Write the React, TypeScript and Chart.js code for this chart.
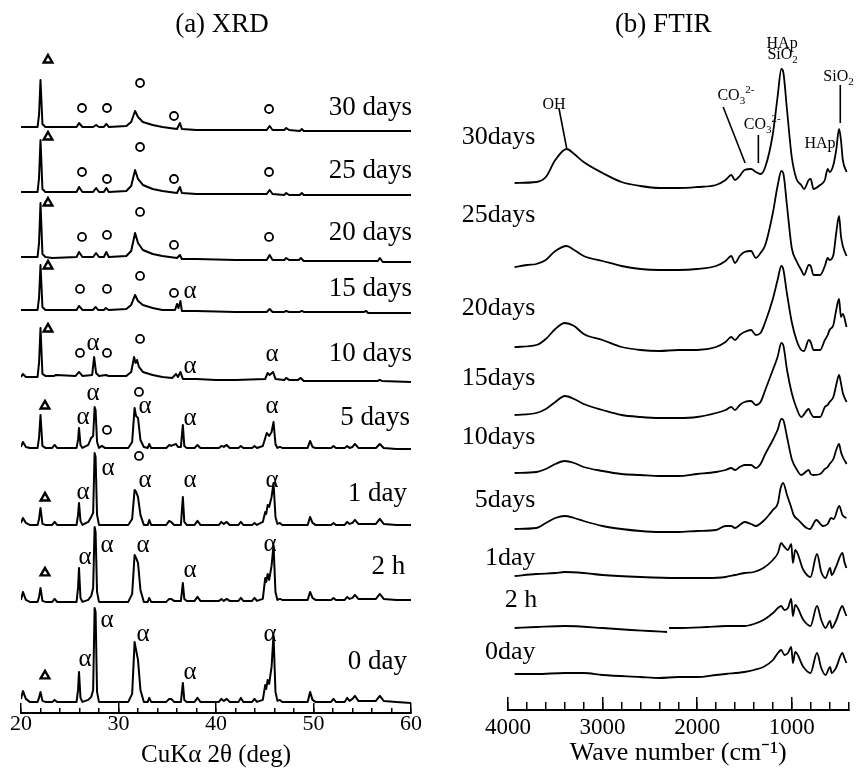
import React, { useEffect, useRef } from "react";
import { Chart, registerables } from "chart.js";

Chart.register(...registerables);

type Pt = [number, number | null];

const FONT = '"Liberation Serif", "Times New Roman", Times, serif';

// ================= (a) XRD =================
const xrdNames = ["30 days", "25 days", "20 days", "15 days", "10 days", "5 days", "1 day", "2 h", "0 day"];
const xrdOffsets = [586, 521, 456, 403, 336, 265, 188, 111, 11];
const xrdNameX = [60.1, 60.1, 60.1, 60.1, 60.1, 59.9, 59.6, 59.4, 59.6];
const xrdNameY = [605, 542, 480, 424, 359, 295, 219, 146, 51];
const xrdMajorTicks = [20, 30, 40, 50, 60];
const xrdMinorTicks = [20, 22, 24, 26, 28, 30, 32, 34, 36, 38, 40, 42, 44, 46, 48, 50, 52, 54, 56, 58, 60];

const xrd30d: Pt[] = [[20, 0], [21.7, 0], [21.85, 12], [22.0, 47], [22.2, 3], [22.5, 0], [25.7, 0], [25.95, 4], [26.3, 0], [27.4, 0], [27.7, 2], [28.0, 0], [28.5, 0], [28.75, 3], [29.0, 0], [30.8, 1], [31.3, 5], [31.7, 16], [32.0, 10], [32.5, 5], [33.5, 2], [34.5, 0], [36.0, -2], [36.3, 4], [36.5, -2], [38, -3], [42, -3], [45.2, -3], [45.5, 1], [45.8, -3], [47.0, -3], [47.2, -1], [47.5, -3], [48.6, -4], [48.8, -2], [49.0, -4], [60, -4]];
const xrd25d: Pt[] = [[20, 0], [21.7, 0], [21.85, 14], [22.0, 52], [22.2, 3], [22.5, 0], [25.7, 0], [25.95, 5], [26.3, 0], [27.4, 0], [27.7, 4], [28.0, 0], [28.5, 0], [28.75, 4], [29.0, 0], [30.8, 1], [31.3, 6], [31.7, 22], [32.0, 13], [32.5, 7], [33.5, 3], [34.5, 1], [36.0, -1], [36.3, 5], [36.5, -1], [38, -2], [42, -2], [45.2, -2], [45.5, 2], [45.8, -2], [47.0, -3], [47.2, -1], [47.5, -3], [48.6, -3], [48.8, -1], [49.0, -3], [60, -3]];
const xrd20d: Pt[] = [[20, 0], [21.7, 0], [21.85, 14], [22.0, 54], [22.2, 3], [22.5, 0], [23.2, -1], [25.7, 0], [25.95, 5], [26.3, 0], [27.4, 0], [27.7, 4], [28.0, 0], [28.5, 0], [28.75, 5], [29.0, 0], [30.8, 1], [31.3, 6], [31.7, 24], [32.0, 14], [32.5, 7], [33.5, 3], [34.5, 1], [36.0, -1], [36.3, 2], [36.5, -2], [38, -2], [42, -3], [45.2, -3], [45.5, 2], [45.8, -3], [47.0, -3], [47.2, -1], [47.5, -3], [48.5, -3], [48.7, -1], [49.0, -4], [56.6, -4], [56.8, -1], [57.1, -5], [60, -5]];
const xrd15d: Pt[] = [[20, 0], [21.7, 0], [21.85, 12], [22.0, 45], [22.2, 3], [22.5, 0], [25.7, 0], [25.95, 4], [26.3, 0], [27.4, 0], [27.65, 3], [27.9, 0], [28.5, 0], [28.7, 2], [29.0, 0], [30.8, 1], [31.3, 5], [31.7, 15], [32.0, 9], [32.5, 5], [33.5, 2], [34.5, 0], [35.8, 0], [36.0, 6], [36.15, 2], [36.35, 9], [36.5, -1], [38, -1], [42, -2], [45.2, -2], [45.5, 1], [45.8, -2], [47.0, -2], [47.2, -1], [47.5, -2], [48.6, -2], [48.8, -1], [49.0, -2], [55.2, -2], [55.4, -1], [55.6, -3], [60, -3]];
const xrd10d: Pt[] = [[20, 0], [20.2, 3], [20.5, 0], [21.7, 0], [21.85, 14], [22.0, 49], [22.2, 3], [22.5, 1], [23.4, 1], [23.6, 2], [25.6, 1], [25.95, 5], [26.3, 1], [27.3, 2], [27.5, 20], [27.7, 4], [28.0, 1], [28.7, 2], [29.0, 1], [30.8, 1], [31.3, 5], [31.6, 20], [31.75, 14], [31.9, 17], [32.1, 10], [32.5, 5], [33.5, 2], [34.5, 0], [35.5, -1], [35.9, 3], [36.1, 0], [36.35, 5], [36.6, -2], [38, -2], [40, -3], [42, -3], [45.05, -2], [45.3, 4], [45.5, 2], [45.85, 5], [46.1, -2], [47.0, -3], [47.2, -1], [47.5, -3], [48.4, -3], [48.7, -1], [49.0, -4], [52, -4], [56.6, -4], [56.8, -3], [57.0, -4], [60, -5]];
const xrd5d: Pt[] = [[20.0, 1], [20.2, 6], [20.5, 1], [20.9, 0], [21.7, 0], [21.85, 10], [22.0, 33], [22.2, 2], [22.5, 0], [23.2, 0], [23.45, 3], [23.7, 0], [25.7, 0], [25.85, 8], [25.95, 20], [26.1, 3], [26.3, 0], [26.9, 3], [27.2, 10], [27.4, 12], [27.55, 41], [27.65, 38], [27.8, 6], [28.0, 0], [28.3, 2], [28.6, 0], [31.0, 0], [31.4, 6], [31.65, 40], [31.8, 32], [32.0, 30], [32.25, 8], [32.6, 1], [33.0, 0], [33.15, 4], [33.35, 0], [34.9, 0], [35.2, 3], [35.4, 2], [35.9, 4], [36.1, 1], [36.4, 1], [36.6, 23], [36.75, 2], [37.0, 0], [37.8, 0], [38.1, 3], [38.4, 0], [40.3, 0], [40.55, 2], [40.8, 1], [41.1, 3], [41.4, 0], [42.3, 0], [42.55, 2], [42.8, 0], [43.7, 0], [43.95, 2], [44.2, 0], [44.8, 2], [45.05, 10], [45.2, 15], [45.45, 12], [45.7, 16], [45.9, 26], [46.1, 4], [46.3, 0], [46.55, 1], [46.8, 0], [49.4, 0], [49.65, 7], [49.9, 1], [50.2, 0], [51.8, 0], [52.05, 2], [52.3, 0], [53.2, 0], [53.45, 2], [53.7, 0], [54.0, 1], [54.25, 4], [54.6, 0], [56.4, 0], [56.8, 4], [57.2, 0], [58.5, -1], [60, -1]];
const xrd1d: Pt[] = [[20.0, 2], [20.2, 7], [20.5, 2], [20.9, 0], [21.7, 0], [21.85, 6], [22.0, 17], [22.2, 1], [22.5, 0], [23.2, 0], [23.45, 3], [23.7, 0], [25.7, 0], [25.85, 10], [25.95, 22], [26.1, 4], [26.3, 0], [26.9, 3], [27.2, 8], [27.4, 12], [27.55, 72], [27.65, 68], [27.8, 10], [28.0, 0], [31.0, 0], [31.4, 6], [31.65, 35], [31.8, 33], [32.0, 28], [32.25, 10], [32.6, 0], [33.0, 0], [33.15, 5], [33.35, 0], [34.9, 0], [35.2, 4], [35.4, 3], [35.7, 0], [36.4, 0], [36.6, 28], [36.75, 3], [37.0, 0], [37.8, 0], [38.1, 4], [38.4, 0], [40.3, 0], [40.55, 3], [40.8, 1], [41.1, 3], [41.4, 0], [42.3, 0], [42.55, 3], [42.8, 0], [43.7, 0], [43.95, 2], [44.2, 0], [44.8, 3], [45.05, 13], [45.15, 11], [45.3, 20], [45.45, 18], [45.7, 28], [45.9, 42], [46.1, 8], [46.3, 1], [46.55, 2], [46.8, 0], [49.4, 0], [49.65, 8], [49.9, 2], [50.2, 0], [51.8, 0], [52.05, 2], [52.3, 0], [53.2, 0], [53.45, 3], [53.7, 1], [54.0, 2], [54.25, 5], [54.6, 1], [56.4, 1], [56.8, 6], [57.2, 1], [58.5, 0], [60, 0]];
const xrd2h: Pt[] = [[20.0, 2], [20.2, 10], [20.5, 2], [20.9, 0], [21.7, 0], [21.85, 5], [22.0, 14], [22.2, 1], [22.5, 0], [23.2, 0], [23.45, 3], [23.7, 0], [25.7, 0], [25.85, 14], [25.95, 34], [26.1, 4], [26.3, 0], [26.9, 2], [27.2, 6], [27.4, 14], [27.55, 75], [27.65, 70], [27.8, 10], [28.0, 0], [31.0, 0], [31.4, 8], [31.65, 47], [31.8, 44], [32.0, 39], [32.25, 12], [32.6, 0], [33.0, 0], [33.15, 4], [33.35, 0], [34.9, 0], [35.2, 3], [35.4, 3], [35.7, 1], [36.4, 1], [36.6, 19], [36.75, 3], [37.0, 1], [37.8, 1], [38.1, 5], [38.4, 1], [40.3, 1], [40.55, 3], [40.8, 1], [41.1, 3], [41.4, 1], [42.3, 1], [42.55, 4], [42.8, 1], [43.7, 1], [43.95, 4], [44.2, 1], [44.8, 3], [45.05, 24], [45.15, 20], [45.3, 28], [45.45, 22], [45.7, 36], [45.9, 57], [46.1, 10], [46.3, 2], [46.55, 3], [46.8, 2], [49.4, 2], [49.65, 10], [49.9, 4], [50.2, 2], [51.8, 2], [52.05, 4], [52.3, 2], [53.2, 2], [53.45, 5], [53.7, 3], [54.0, 4], [54.25, 7], [54.6, 3], [56.4, 3], [56.8, 8], [57.2, 3], [58.5, 2], [60, 2]];
const xrd0d: Pt[] = [[20.0, 3], [20.2, 11], [20.5, 3], [20.9, 0], [21.7, 0], [21.85, 4], [22.0, 10], [22.2, 1], [22.5, 0], [23.2, 0], [23.45, 2], [23.7, 0], [25.7, 0], [25.85, 12], [25.95, 30], [26.1, 4], [26.3, 0], [26.9, 2], [27.2, 5], [27.4, 12], [27.55, 94], [27.65, 90], [27.8, 10], [28.0, 0], [31.0, 0], [31.4, 8], [31.65, 60], [31.8, 52], [32.0, 42], [32.25, 12], [32.6, 0], [33.0, 0], [33.15, 4], [33.35, 0], [34.9, 0], [35.2, 3], [35.4, 3], [35.7, 0], [36.4, 0], [36.6, 19], [36.75, 2], [37.0, 0], [37.8, 0], [38.1, 4], [38.4, 0], [40.3, 0], [40.55, 3], [40.8, 1], [41.1, 3], [41.4, 0], [42.3, 0], [42.55, 4], [42.8, 0], [43.7, 0], [43.95, 3], [44.2, 0], [44.8, 2], [45.05, 17], [45.15, 13], [45.3, 22], [45.45, 18], [45.7, 35], [45.9, 67], [46.1, 10], [46.3, 1], [46.55, 2], [46.8, 0], [49.4, 0], [49.65, 10], [49.9, 2], [50.2, 0], [51.8, 0], [52.05, 3], [52.3, 0], [53.2, 0], [53.45, 4], [53.7, 1], [54.0, 3], [54.25, 6], [54.6, 1], [56.4, 1], [56.8, 6], [57.2, 1], [58.5, 0], [60, -1]];
const xrdTraces = [xrd30d, xrd25d, xrd20d, xrd15d, xrd10d, xrd5d, xrd1d, xrd2h, xrd0d];

// phase markers (2θ, height)
const xrdTriangles: Pt[] = [[22.77, 653], [22.77, 576], [22.77, 510], [22.77, 447], [22.77, 384], [22.46, 307], [22.46, 215], [22.46, 140], [22.46, 37]];
const xrdCircles: Pt[] = [
  [26.26, 605], [28.82, 605], [32.21, 630], [35.69, 597], [45.44, 604],
  [26.26, 541], [28.82, 534], [32.21, 566], [35.69, 534], [45.44, 541],
  [26.26, 476], [28.82, 478], [32.21, 501], [35.69, 468], [45.44, 476],
  [26.05, 424], [28.82, 424], [32.21, 437], [35.69, 420],
  [26.05, 360], [28.82, 360], [32.21, 374],
  [28.82, 283], [32.1, 321],
  [32.1, 257],
];
const xrdAlphas: Pt[] = [
  [37.33, 422],
  [27.38, 370], [37.33, 347], [45.74, 359],
  [27.38, 320], [26.36, 296], [32.72, 307], [37.33, 295], [45.74, 307],
  [28.92, 244], [26.36, 220], [32.72, 232], [37.33, 232], [45.74, 232],
  [28.82, 167], [26.56, 155], [32.51, 167], [37.33, 142], [45.54, 168],
  [28.82, 92], [26.56, 53], [32.51, 78], [37.33, 40], [45.54, 78],
];

// ================= (b) FTIR =================
const ftirNames = ["30days", "25days", "20days", "15days", "10days", "5days", "1day", "2 h", "0day"];
const ftirOffsets = [527, 443, 363, 295, 237, 181, 134, 82, 36];
const ftirNameX = [3710, 3710, 3710, 3710, 3710, 3710, 3710, 3690, 3710];
const ftirNameY = [573, 495, 402, 332, 273, 210, 152, 110, 58];
const ftirMajorTicks = [4000, 3000, 2000, 1000];
const ftirMinorTicks = [4000, 3800, 3600, 3400, 3200, 3000, 2800, 2600, 2400, 2200, 2000, 1800, 1600, 1400, 1200, 1000, 800, 600, 400];

const ftir30d: Pt[] = [[3930, 0], [3700, 1], [3600, 6], [3500, 23], [3380, 34], [3300, 29], [3200, 21], [3000, 10], [2800, 1], [2600, -3], [2400, -5], [2200, -5], [2000, -4], [1800, -2], [1700, 3], [1640, 8], [1600, 3], [1550, 7], [1500, 13], [1430, 14], [1380, 11], [1330, 9], [1280, 16], [1200, 49], [1150, 86], [1110, 114], [1090, 111], [1050, 73], [1000, 26], [950, 4], [900, -2], [870, -6], [820, 3], [800, 4], [770, -6], [700, -2], [650, 3], [620, 14], [600, 11], [560, 18], [530, 33], [500, 54], [480, 43], [460, 23], [420, 11]];
const ftir25d: Pt[] = [[3930, 0], [3800, 2], [3700, 3], [3600, 7], [3500, 16], [3380, 21], [3300, 17], [3200, 11], [3000, 6], [2800, 1], [2600, -2], [2400, -3], [2200, -3], [2000, -2], [1800, 1], [1700, 6], [1640, 11], [1600, 4], [1550, 11], [1500, 15], [1430, 16], [1380, 9], [1330, 14], [1280, 22], [1200, 54], [1150, 81], [1110, 96], [1090, 94], [1050, 61], [1000, 19], [950, 6], [900, -3], [870, -8], [820, 2], [800, 1], [770, -8], [700, -8], [650, 1], [620, 9], [600, 7], [560, 12], [530, 34], [500, 51], [480, 31], [460, 21], [420, 11]];
const ftir20d: Pt[] = [[3930, 0], [3700, 2], [3600, 8], [3500, 18], [3400, 24], [3300, 21], [3200, 13], [3000, 7], [2800, 0], [2600, -3], [2400, -4], [2200, -3], [2000, -3], [1800, 0], [1700, 5], [1640, 10], [1600, 7], [1550, 12], [1500, 15], [1430, 17], [1380, 12], [1330, 14], [1280, 25], [1200, 48], [1150, 67], [1110, 81], [1090, 78], [1050, 53], [1000, 25], [950, 7], [900, -3], [870, -4], [820, 7], [800, 5], [770, -3], [700, -3], [650, 7], [620, 12], [600, 17], [560, 22], [530, 37], [500, 48], [480, 30], [460, 33], [420, 20]];
const ftir15d: Pt[] = [[3930, 0], [3700, 2], [3600, 6], [3500, 13], [3400, 19], [3300, 16], [3200, 11], [3000, 5], [2800, 0], [2600, -2], [2400, -3], [2200, -3], [2000, -2], [1800, 2], [1700, 5], [1640, 8], [1600, 5], [1550, 10], [1500, 13], [1430, 14], [1380, 10], [1330, 13], [1280, 25], [1200, 45], [1150, 58], [1110, 72], [1090, 70], [1050, 45], [1000, 22], [950, 7], [900, -2], [820, 6], [800, 2], [770, -2], [700, -2], [650, 8], [620, 10], [600, 13], [560, 18], [530, 30], [500, 40], [480, 32], [460, 22], [420, 13]];
const ftir10d: Pt[] = [[3930, 0], [3700, 1], [3600, 4], [3500, 9], [3400, 12], [3300, 10], [3200, 6], [3000, 2], [2800, -1], [2600, -2], [2400, -3], [2200, -3], [2000, -1], [1800, 1], [1700, 3], [1640, 5], [1600, 3], [1550, 6], [1500, 8], [1430, 8], [1380, 5], [1330, 9], [1280, 19], [1200, 33], [1150, 43], [1110, 54], [1090, 53], [1050, 36], [1000, 14], [950, 4], [900, -2], [820, 3], [800, -1], [770, -2], [700, -1], [650, 4], [620, 6], [600, 9], [560, 14], [530, 23], [500, 29], [480, 21], [460, 16], [420, 9]];
const ftir5d: Pt[] = [[3930, 0], [3700, 1], [3600, 6], [3500, 11], [3400, 13], [3300, 11], [3200, 8], [3000, 3], [2800, 0], [2600, -2], [2400, -3], [2200, -3], [2000, -2], [1800, -1], [1700, 3], [1640, 3], [1600, 1], [1550, 4], [1500, 7], [1430, 5], [1380, 3], [1300, 8], [1250, 13], [1200, 19], [1146, 26], [1120, 40], [1091, 46], [1050, 34], [1010, 23], [980, 14], [930, 9], [880, 4], [843, 1], [808, 0], [740, 9], [670, 3], [620, 5], [585, 11], [557, 10], [498, 23], [464, 14], [422, 11]];
const ftir1d: Pt[] = [[3930, 0], [3700, 2], [3500, 3], [3400, 4], [3200, 3], [3000, 1], [2600, -1], [2200, -2], [1900, -2], [1700, -1], [1600, 1], [1500, 3], [1400, 4], [1300, 8], [1200, 16], [1146, 23], [1112, 33], [1077, 29], [1040, 26], [1005, 32], [988, 13], [963, 26], [877, 6], [802, -1], [733, 22], [688, 4], [643, -2], [595, 8], [577, 1], [533, 9], [464, 23], [443, 14], [422, 8]];
const ftir2h: Pt[] = [[3930, 0], [3700, 1], [3400, 2], [3000, 0], [2700, -2], [2500, -3], [2318, -4], [2308, null], [2297, 0], [2200, 0], [1900, 1], [1700, 2], [1500, 2], [1400, 4], [1300, 8], [1198, 15], [1146, 20], [1112, 22], [1077, 18], [1040, 20], [1005, 29], [988, 12], [963, 23], [877, 8], [802, 2], [733, 22], [688, 8], [643, 0], [595, 7], [577, 0], [533, 7], [464, 22], [443, 17], [422, 12]];
const ftir0d: Pt[] = [[3930, 0], [3700, 0], [3400, 1], [3200, 1], [3000, -1], [2600, -3], [2400, -4], [2200, -3], [2000, -3], [1800, -1], [1700, 0], [1500, 2], [1400, 4], [1300, 7], [1198, 14], [1146, 21], [1112, 24], [1077, 19], [1040, 21], [1005, 27], [988, 11], [963, 22], [877, 7], [802, 1], [733, 21], [688, 6], [643, -1], [595, 7], [577, 1], [533, 6], [464, 21], [443, 16], [422, 11]];
const ftirTraces = [ftir30d, ftir25d, ftir20d, ftir15d, ftir10d, ftir5d, ftir1d, ftir2h, ftir0d];

// band assignments: [text parts], anchor (wavenumber, height)
type Part = [string, number, number];
const ftirNoteText: Part[][] = [
  [["OH", 16, 0]],
  [["CO", 16, 0], ["3", 11, 5], ["2-", 11, -6]],
  [["CO", 16, 0], ["3", 11, 5], ["2-", 11, -6]],
  [["HAp", 16, 0]],
  [["SiO", 16, 0], ["2", 11, 5]],
  [["SiO", 16, 0], ["2", 11, 5]],
  [["HAp", 16, 0]],
];
const ftirNoteX = [3514, 1591, 1312, 1102, 1097, 505, 701];
const ftirNoteY = [605, 614, 585, 666, 655, 633, 566];
const ftirLeaders: [number, number, number, number][] = [
  [3462, 602, 3380, 562],
  [1725, 603, 1493, 547],
  [1353, 575, 1353, 547],
  [487, 625, 487, 587],
];

const lineDs = (pts: Pt[], off: number, width: number, smooth: boolean) => ({
  data: pts.map(([a, b]) => ({ x: a, y: b === null ? null : b + off })),
  showLine: true,
  pointRadius: 0,
  borderColor: "#000",
  borderWidth: width,
  borderJoinStyle: "round",
  tension: 0,
  cubicInterpolationMode: smooth ? "monotone" : "default",
  spanGaps: false,
});

const axisFont = (size: number, lh = 1.2) => ({ family: FONT, size, lineHeight: lh });

function xrdConfig(): any {
  const textPlugin = {
    id: "xrdText",
    afterDraw(chart: any) {
      const { ctx, chartArea } = chart;
      const x = chart.scales.x, y = chart.scales.y;
      ctx.save();
      ctx.fillStyle = "#000";
      ctx.textBaseline = "middle";
      ctx.textAlign = "center";
      ctx.font = `27px ${FONT}`;
      ctx.fillText("(a) XRD", (chartArea.left + chartArea.right) / 2 + 6, 25);
      ctx.font = `25px ${FONT}`;
      xrdAlphas.forEach(([a, b]) => ctx.fillText("α", x.getPixelForValue(a), y.getPixelForValue(b)));
      ctx.textAlign = "right";
      ctx.font = `27px ${FONT}`;
      xrdNames.forEach((n, i) => ctx.fillText(n, x.getPixelForValue(xrdNameX[i]), y.getPixelForValue(xrdNameY[i])));
      ctx.restore();
    },
  };
  return {
    type: "scatter",
    data: {
      datasets: [
        {
          data: xrdTriangles.map(([a, b]) => ({ x: a, y: b })),
          showLine: false, pointStyle: "triangle", pointRadius: 5, pointBorderWidth: 2.4,
          pointBorderColor: "#000", pointBackgroundColor: "#fff",
        },
        {
          data: xrdCircles.map(([a, b]) => ({ x: a, y: b })),
          showLine: false, pointStyle: "circle", pointRadius: 4, pointBorderWidth: 1.8,
          pointBorderColor: "#000", pointBackgroundColor: "#fff",
        },
        ...xrdTraces.map((t, i) => lineDs(t, xrdOffsets[i], 2, false)),
      ],
    },
    options: {
      responsive: false,
      animation: false,
      events: [],
      devicePixelRatio: 1,
      layout: { padding: { left: 21, right: 19, top: 40, bottom: 0 } },
      plugins: { legend: { display: false }, tooltip: { enabled: false }, title: { display: false } },
      scales: {
        x: {
          type: "linear", position: "bottom", min: 20, max: 60,
          afterBuildTicks: (s: any) => { s.ticks = xrdMinorTicks.map((v) => ({ value: v })); },
          ticks: {
            autoSkip: false, maxRotation: 0, padding: 3.4, color: "#000", font: axisFont(22, 1.15),
            callback: (v: number) => (xrdMajorTicks.includes(v) ? String(v) : ""),
          },
          grid: { drawOnChartArea: false, drawTicks: true, tickLength: -5, color: "#000", lineWidth: 1.5 },
          border: { display: true, color: "#000", width: 2 },
          title: { display: true, text: "CuKα 2θ (deg)", color: "#000", font: axisFont(25), padding: { top: 0, bottom: 4 } },
        },
        x2: {
          type: "linear", axis: "x", position: { y: 0 }, min: 20, max: 60,
          afterBuildTicks: (s: any) => { s.ticks = xrdMajorTicks.map((v) => ({ value: v })); },
          ticks: { display: false },
          grid: { drawOnChartArea: false, drawTicks: true, tickLength: -10, color: "#000", lineWidth: 1.5 },
          border: { display: false },
        },
        y: { type: "linear", display: false, min: 0, max: 673 },
      },
    },
    plugins: [textPlugin],
  };
}

function ftirConfig(): any {
  const drawRich = (ctx: any, parts: Part[], cx: number, cy: number) => {
    let total = 0;
    parts.forEach(([t, s]) => { ctx.font = `${s}px ${FONT}`; total += ctx.measureText(t).width; });
    let px = cx - total / 2;
    parts.forEach(([t, s, dy]) => {
      ctx.font = `${s}px ${FONT}`;
      ctx.fillText(t, px, cy + dy);
      px += ctx.measureText(t).width;
    });
  };
  const textPlugin = {
    id: "ftirText",
    afterDraw(chart: any) {
      const { ctx, chartArea } = chart;
      const x = chart.scales.x, y = chart.scales.y;
      ctx.save();
      ctx.fillStyle = "#000";
      ctx.strokeStyle = "#000";
      ctx.textBaseline = "middle";
      ctx.textAlign = "center";
      ctx.font = `27px ${FONT}`;
      ctx.fillText("(b) FTIR", (chartArea.left + chartArea.right) / 2 - 15, 25);
      ctx.textAlign = "right";
      ctx.font = `26px ${FONT}`;
      ftirNames.forEach((n, i) => ctx.fillText(n, x.getPixelForValue(ftirNameX[i]), y.getPixelForValue(ftirNameY[i])));
      ctx.textAlign = "left";
      ftirNoteText.forEach((parts, i) => drawRich(ctx, parts, x.getPixelForValue(ftirNoteX[i]), y.getPixelForValue(ftirNoteY[i])));
      ctx.lineWidth = 1.6;
      ftirLeaders.forEach(([a, b, c, d]) => {
        ctx.beginPath();
        ctx.moveTo(x.getPixelForValue(a), y.getPixelForValue(b));
        ctx.lineTo(x.getPixelForValue(c), y.getPixelForValue(d));
        ctx.stroke();
      });
      ctx.restore();
    },
  };
  return {
    type: "scatter",
    data: {
      datasets: ftirTraces.map((t, i) => lineDs(t, ftirOffsets[i], 1.8, true)),
    },
    options: {
      responsive: false,
      animation: false,
      events: [],
      devicePixelRatio: 1,
      layout: { padding: { left: 78, right: 4, top: 40, bottom: 0 } },
      plugins: { legend: { display: false }, tooltip: { enabled: false }, title: { display: false } },
      scales: {
        x: {
          type: "linear", position: "bottom", min: 400, max: 4000, reverse: true,
          afterBuildTicks: (s: any) => { s.ticks = ftirMinorTicks.map((v) => ({ value: v })); },
          ticks: {
            autoSkip: false, maxRotation: 0, padding: 12.5, color: "#000", font: axisFont(23),
            callback: (v: number) => (ftirMajorTicks.includes(v) ? String(v) : ""),
          },
          grid: { drawOnChartArea: false, drawTicks: true, tickLength: -8, color: "#000", lineWidth: 1.5 },
          border: { display: true, color: "#000", width: 2 },
          title: { display: true, text: "Wave number (cm⁻¹)", color: "#000", font: axisFont(26, 1.0), padding: { top: -14.6, bottom: 8 } },
        },
        x2: {
          type: "linear", axis: "x", position: { y: 0 }, min: 400, max: 4000, reverse: true,
          afterBuildTicks: (s: any) => { s.ticks = ftirMajorTicks.map((v) => ({ value: v })); },
          ticks: { display: false },
          grid: { drawOnChartArea: false, drawTicks: true, tickLength: -13, color: "#000", lineWidth: 1.5 },
          border: { display: false },
        },
        y: { type: "linear", display: false, min: 0, max: 670 },
      },
    },
    plugins: [textPlugin],
  };
}

function Panel({ make, left, width }: { make: () => any; left: number; width: number }) {
  const ref = useRef<HTMLCanvasElement>(null);
  useEffect(() => {
    const chart = new Chart(ref.current as HTMLCanvasElement, make());
    return () => chart.destroy();
  }, []);
  return (
    <canvas
      ref={ref}
      width={width}
      height={774}
      style={{ position: "absolute", left, top: 0, width, height: 774 }}
    />
  );
}

export default function App() {
  return (
    <div style={{ position: "fixed", left: 0, top: 0, width: 861, height: 774, background: "#fff" }}>
      <Panel make={xrdConfig} left={0} width={430} />
      <Panel make={ftirConfig} left={430} width={431} />
    </div>
  );
}
